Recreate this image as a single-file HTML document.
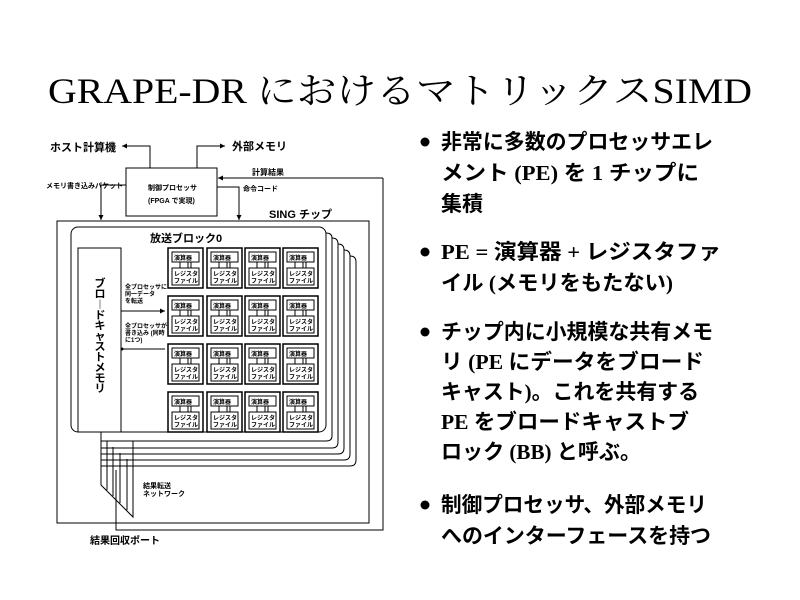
<!DOCTYPE html>
<html><head><meta charset="utf-8"><style>
body{margin:0;background:#fff;width:800px;height:600px;overflow:hidden}
svg{display:block}
.t{font-family:"Liberation Sans","Noto Sans CJK JP",sans-serif;font-weight:bold;fill:#000}
.b{font-family:"Liberation Serif","Noto Sans CJK JP",serif;font-weight:bold;font-size:21px;fill:#000}
</style></head><body>
<svg width="800" height="600" viewBox="0 0 800 600" xmlns="http://www.w3.org/2000/svg">
<defs><marker id="a" markerWidth="6" markerHeight="6" refX="5" refY="3" orient="auto"><path d="M0,0.5 L5,3 L0,5.5z" fill="#000"/></marker></defs>
<text x="48" y="103" font-family="Liberation Serif,'Noto Serif CJK SC',serif" font-size="36" textLength="704" lengthAdjust="spacingAndGlyphs">GRAPE-DR におけるマトリックスSIMD</text>
<g fill="none" stroke="#000" stroke-width="1">
<path d="M150,168 V146 H122" marker-end="url(#a)"/>
<path d="M197,168 V146 H225" marker-end="url(#a)"/>
<rect x="126" y="168" width="91" height="48"/>
<path d="M383,178 H218" marker-end="url(#a)"/>
<path d="M383,178 V530 H116 V470"/>
<path d="M126,185 H101 V220" marker-end="url(#a)"/>
<path d="M217,187 H239 V220" marker-end="url(#a)"/>
<rect x="57" y="221" width="312" height="302"/>
<path d="M356,262 V460 Q356,466 350,466 H101"/>
<path d="M350,256 V454 Q350,460 344,460 H101"/>
<path d="M344,250 V448 Q344,454 338,454 H101"/>
<path d="M338,244 V442 Q338,448 332,448 H101"/>
<path d="M332,238 V436 Q332,441 326,441 H101"/>
<path d="M326,233 Q332,233 332,238"/><path d="M332,238 Q338,238 338,244"/><path d="M338,244 Q344,244 344,250"/><path d="M344,250 Q350,250 350,256"/><path d="M350,256 Q356,256 356,262"/>
<rect x="71" y="227" width="255" height="205" rx="7" fill="#fff"/>
<rect x="78" y="248" width="43" height="184"/>
<path d="M121,311 H165" marker-end="url(#a)"/>
<path d="M165,349 H121"/>
<path d="M101,432 V485 L133,517 V441"/>
<path d="M107,441 V490"/><path d="M113,447 V496"/><path d="M120,453 V503"/><path d="M127,459 V510"/><path d="M133,466 V517"/>
</g>
<circle cx="122" cy="349" r="1.5"/>
<g class="t" font-size="9">
<text x="50" y="151" font-size="11">ホスト計算機</text>
<text x="232" y="150" font-size="11">外部メモリ</text>
<text x="252" y="175" font-size="8">計算結果</text>
<text x="46" y="188" font-size="7">メモリ書き込みパケット</text>
<text x="243" y="191" font-size="7">命令コード</text>
<text x="148" y="190" font-size="7">制御プロセッサ</text>
<text x="148" y="203" font-size="7">(FPGA で実現)</text>
<text x="269" y="218" font-size="11">SING チップ</text>
<text x="150" y="242" font-size="11">放送ブロック0</text>
<text x="125" y="289" font-size="6">全プロセッサに</text>
<text x="125" y="296" font-size="6">同一データ</text>
<text x="125" y="303" font-size="6">を転送</text>
<text x="125" y="328" font-size="6">全プロセッサが</text>
<text x="125" y="335" font-size="6">書き込み (同時</text>
<text x="125" y="342" font-size="6">に1つ)</text>
<text x="143" y="488" font-size="7">結果転送</text>
<text x="143" y="496" font-size="7">ネットワーク</text>
<text x="90" y="544" font-size="10">結果回収ポート</text>
<g font-size="11" text-anchor="middle">
<text x="100" y="287">ブ</text><text x="100" y="297.5">ロ</text><text x="100" y="308">︱</text><text x="100" y="318.5">ド</text><text x="100" y="329">キ</text><text x="100" y="339.5">ャ</text><text x="100" y="350">ス</text><text x="100" y="360.5">ト</text><text x="100" y="371">メ</text><text x="100" y="381.5">モ</text><text x="100" y="392">リ</text>
</g>
</g>
<g id="pes" fill="none" stroke="#000"></g>
<g class="b">
<circle cx="425" cy="142" r="4.5"/><circle cx="425" cy="252" r="4.5"/><circle cx="425" cy="332" r="4.5"/><circle cx="425" cy="505" r="4.5"/>
<text x="441" y="149" textLength="272" lengthAdjust="spacingAndGlyphs">非常に多数のプロセッサエレ</text>
<text x="441" y="180" textLength="258" lengthAdjust="spacingAndGlyphs">メント (PE) を 1 チップに</text>
<text x="441" y="211">集積</text>
<text x="441" y="259" textLength="280" lengthAdjust="spacingAndGlyphs">PE = 演算器 + レジスタファ</text>
<text x="441" y="290" textLength="232" lengthAdjust="spacingAndGlyphs">イル (メモリをもたない)</text>
<text x="441" y="339" textLength="272" lengthAdjust="spacingAndGlyphs">チップ内に小規模な共有メモ</text>
<text x="441" y="369" textLength="263" lengthAdjust="spacingAndGlyphs">リ (PE にデータをブロード</text>
<text x="441" y="399" textLength="258" lengthAdjust="spacingAndGlyphs">キャスト)。これを共有する</text>
<text x="441" y="429" textLength="248" lengthAdjust="spacingAndGlyphs">PE をブロードキャストブ</text>
<text x="441" y="459" textLength="200" lengthAdjust="spacingAndGlyphs">ロック (BB) と呼ぶ。</text>
<text x="441" y="512" textLength="266" lengthAdjust="spacingAndGlyphs">制御プロセッサ、外部メモリ</text>
<text x="441" y="543" textLength="270" lengthAdjust="spacingAndGlyphs">へのインターフェースを持つ</text>
</g>
</svg>
<script>
var g=document.getElementById('pes'),s='',xs=[168,207,245,283],ys=[248,296,344,392];
ys.forEach(function(y){xs.forEach(function(x){
s+='<rect x="'+x+'" y="'+y+'" width="35" height="40" stroke-width="1.5"/>'+
'<rect x="'+(x+4)+'" y="'+(y+4)+'" width="27" height="10"/>'+
'<rect x="'+(x+4)+'" y="'+(y+20)+'" width="27" height="17"/>'+
'<path d="M'+(x+12)+','+(y+14)+'V'+(y+20)+'M'+(x+20)+','+(y+14)+'V'+(y+20)+'M'+(x+23)+','+(y+14)+'V'+(y+20)+'"/>'+
'<text x="'+(x+6)+'" y="'+(y+12)+'" stroke="none" fill="#000" font-size="6" font-weight="bold" font-family="Liberation Sans,Noto Sans CJK JP,sans-serif">演算器</text>'+
'<text x="'+(x+6)+'" y="'+(y+28)+'" stroke="none" fill="#000" font-size="6" font-weight="bold" font-family="Liberation Sans,Noto Sans CJK JP,sans-serif">レジスタ</text>'+
'<text x="'+(x+6)+'" y="'+(y+35)+'" stroke="none" fill="#000" font-size="6" font-weight="bold" font-family="Liberation Sans,Noto Sans CJK JP,sans-serif">ファイル</text>';
});});
g.innerHTML=s;
</script>
</body></html>
